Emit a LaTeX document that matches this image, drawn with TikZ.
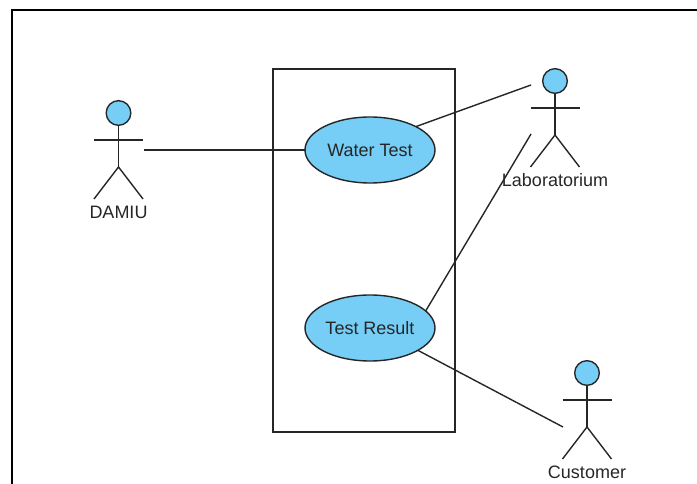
\documentclass[tikz,border=0pt]{standalone}
\usepackage{fontspec}
\setmainfont{Liberation Sans}
\usetikzlibrary{shapes.geometric}
\definecolor{usecaseblue}{HTML}{76CEF6}
\definecolor{labelgrey}{HTML}{262626}
\tikzset{
  actor/.pic={
    \node[actorhead] (head) at (0,0) {};
    \coordinate (neck) at (0,27);
    \coordinate (left) at (-24.5,27);
    \coordinate (right) at (24.5,27);
    \coordinate (hip) at (0,54);
    \coordinate (leftfoot) at (-24.5,86);
    \coordinate (rightfoot) at (24.5,86);
    \node[label] (name) at (0,99) {#1};
    \draw[line] (head) -- (hip);
    \draw[line] (left) -- (right);
    \draw[line] (leftfoot) -- (hip) -- (rightfoot);
  }
}
\begin{document}
\begin{tikzpicture}[x=.75pt, y=-.75pt]
    \tikzstyle{line}=[line width=1.05pt, draw=black!85]
    \tikzstyle{label}=[font=\fontsize{13.5}{15}\selectfont, text=labelgrey, inner sep=0pt]
    \tikzstyle{actorhead}=[circle, line, fill=usecaseblue, minimum size=18.5pt, inner sep=0pt, outer sep=0pt]
    \tikzstyle{usecase}=[ellipse, line, fill=usecaseblue, minimum width=97.5pt, minimum height=49.5pt, inner sep=0pt, outer sep=0pt, label]
    \useasboundingbox (0,0) rectangle (697,484);
    % page edge
    \draw[line width=1.6pt, black] (12,484) -- (12,10) -- (697,10);
    % system
    \node[draw=black!85, line width=1.05pt, minimum width=136.5pt, minimum height=272.25pt, inner sep=0pt] (system) at (364,250.5) {};
    % use cases
    \node[usecase] (water) at (370,150) {Water Test};
    \node[usecase] (result) at (370,328) {Test Result};
    % actors
    \pic (damiu) at (118.5,113) {actor={DAMIU}};
    \pic (lab) at (555,81) {actor={Laboratorium}};
    \pic (customer) at (587,373) {actor={Customer}};
    % connectors
    \coordinate (damiuend) at (143.5,150);
    \coordinate (labupper) at (531,85);
    \coordinate (labend) at (531,134);
    \coordinate (customerend) at (563,427);
    \draw[line] (damiuend) -- (water.west);
    \draw[line] (water.27) -- (labupper);
    \draw[line] (result.17) -- (labend);
    \draw[line] (result.-25) -- (customerend);
  \end{tikzpicture}
\end{document}
